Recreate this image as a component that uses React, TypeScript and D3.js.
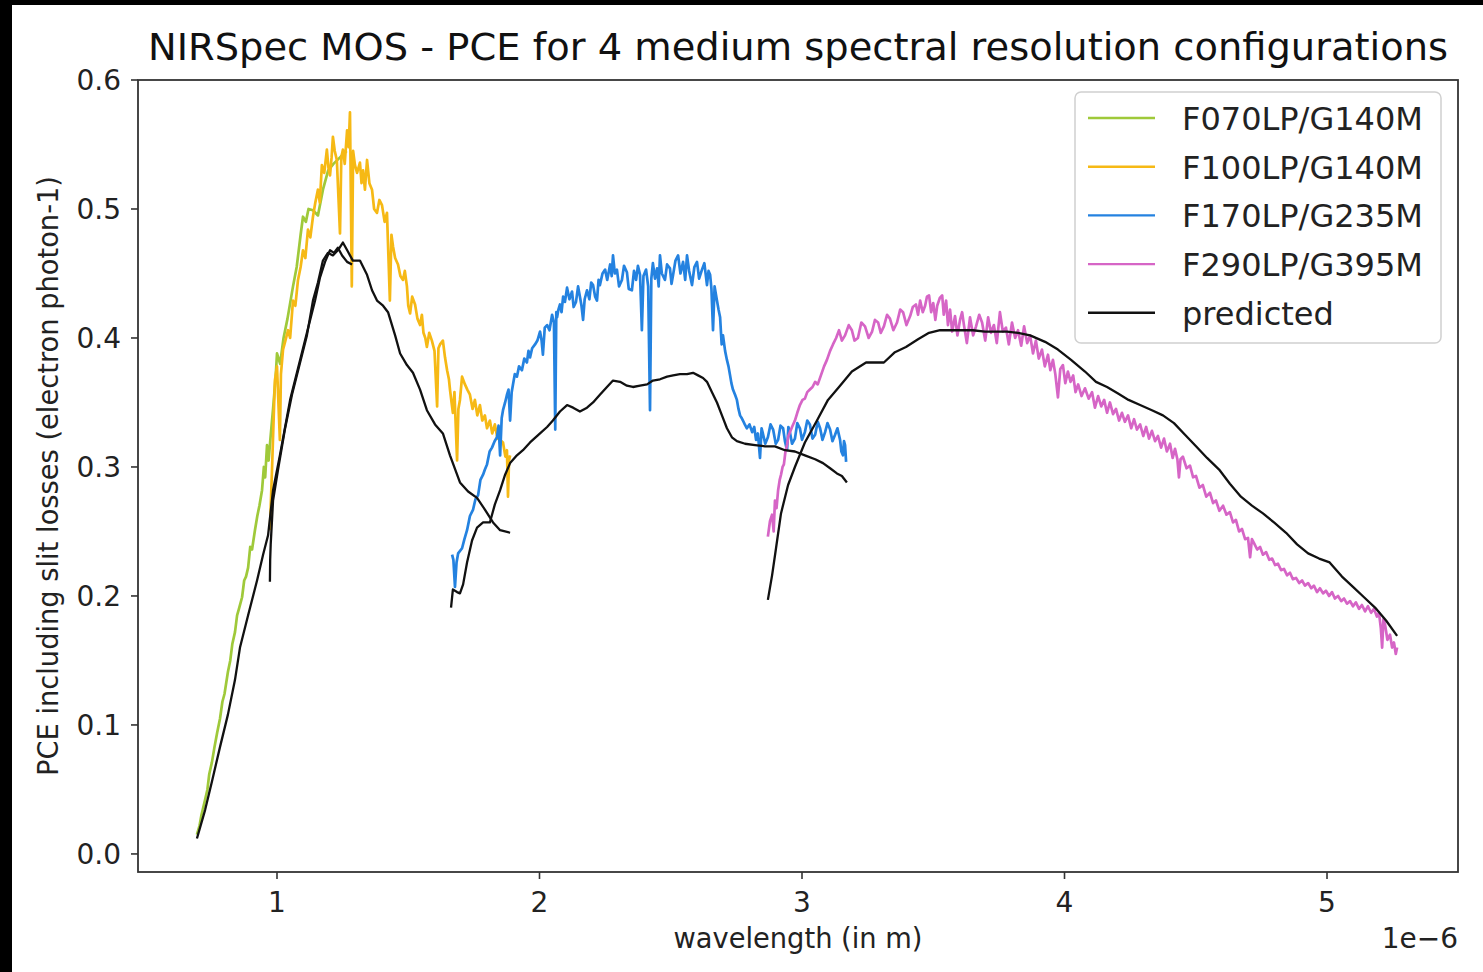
import React from "react";
import * as d3 from "d3";

// wavelength in micrometres (axis shows 1e-6 offset), PCE values
const F070LP_G140M: [number, number][] = [
  [0.695,0.015],[0.705,0.022],[0.712,0.030],[0.726,0.042],[0.735,0.050],[0.742,0.062],[0.752,0.071],
  [0.762,0.083],[0.772,0.094],[0.783,0.105],[0.792,0.118],[0.800,0.124],[0.813,0.141],[0.822,0.150],
  [0.830,0.163],[0.840,0.172],[0.848,0.185],[0.855,0.190],[0.867,0.199],[0.875,0.212],[0.882,0.215],
  [0.890,0.222],[0.898,0.238],[0.905,0.236],[0.916,0.251],[0.925,0.262],[0.933,0.270],[0.943,0.282],
  [0.950,0.300],[0.955,0.292],[0.962,0.317],[0.968,0.305],[0.975,0.322],[0.985,0.345],[0.995,0.370],
  [1.000,0.388],[1.012,0.380],[1.025,0.400],[1.040,0.415],[1.061,0.440],[1.075,0.455],[1.090,0.480],
  [1.099,0.494],[1.110,0.490],[1.120,0.500],[1.137,0.499],[1.156,0.495],[1.175,0.515],[1.195,0.530],
  [1.215,0.535],[1.240,0.540],[1.265,0.545],
];

const F100LP_G140M: [number, number][] = [
  [0.973,0.251],[0.981,0.298],[0.992,0.367],[1.000,0.378],[1.011,0.321],[1.015,0.372],[1.023,0.391],
  [1.032,0.398],[1.042,0.406],[1.050,0.400],[1.061,0.429],[1.070,0.425],[1.080,0.445],[1.090,0.455],
  [1.099,0.468],[1.108,0.462],[1.118,0.484],[1.127,0.478],[1.137,0.494],[1.146,0.505],[1.156,0.515],
  [1.163,0.505],[1.171,0.534],[1.180,0.528],[1.190,0.546],[1.196,0.532],[1.202,0.526],[1.208,0.540],
  [1.213,0.556],[1.220,0.545],[1.228,0.538],[1.240,0.481],[1.245,0.540],[1.251,0.546],[1.258,0.535],
  [1.267,0.561],[1.273,0.548],[1.278,0.575],[1.285,0.440],[1.290,0.545],[1.297,0.534],[1.305,0.528],
  [1.316,0.536],[1.322,0.520],[1.328,0.530],[1.335,0.515],[1.343,0.538],[1.352,0.520],[1.362,0.515],
  [1.370,0.500],[1.381,0.497],[1.390,0.507],[1.400,0.503],[1.410,0.490],[1.419,0.497],[1.430,0.429],
  [1.436,0.480],[1.442,0.471],[1.450,0.462],[1.461,0.457],[1.470,0.448],[1.480,0.445],[1.487,0.452],
  [1.495,0.440],[1.500,0.425],[1.507,0.419],[1.515,0.432],[1.526,0.426],[1.535,0.415],[1.545,0.410],
  [1.552,0.418],[1.558,0.404],[1.565,0.400],[1.571,0.393],[1.580,0.404],[1.590,0.398],[1.600,0.390],
  [1.610,0.347],[1.615,0.392],[1.621,0.395],[1.632,0.398],[1.640,0.385],[1.648,0.375],[1.655,0.368],
  [1.659,0.360],[1.665,0.350],[1.670,0.342],[1.676,0.358],[1.686,0.305],[1.691,0.345],[1.697,0.352],
  [1.705,0.370],[1.716,0.364],[1.725,0.360],[1.735,0.356],[1.745,0.345],[1.754,0.352],[1.763,0.340],
  [1.773,0.348],[1.782,0.336],[1.792,0.340],[1.800,0.330],[1.811,0.336],[1.820,0.326],[1.830,0.333],
  [1.840,0.322],[1.850,0.321],[1.861,0.319],[1.870,0.308],[1.876,0.313],[1.880,0.277],[1.884,0.305],
  [1.888,0.309],
];

const F170LP_G235M: [number, number][] = [
  [1.667,0.232],[1.672,0.228],[1.678,0.207],[1.684,0.226],[1.690,0.233],[1.705,0.237],[1.714,0.244],
  [1.724,0.251],[1.735,0.262],[1.747,0.267],[1.756,0.275],[1.766,0.278],[1.775,0.290],[1.785,0.294],
  [1.792,0.298],[1.800,0.302],[1.810,0.312],[1.819,0.315],[1.829,0.320],[1.838,0.323],[1.844,0.332],
  [1.850,0.309],[1.856,0.338],[1.861,0.344],[1.869,0.350],[1.876,0.356],[1.882,0.360],[1.888,0.336],
  [1.894,0.358],[1.899,0.364],[1.906,0.372],[1.914,0.370],[1.922,0.378],[1.933,0.375],[1.942,0.384],
  [1.952,0.381],[1.958,0.390],[1.964,0.385],[1.972,0.392],[1.983,0.395],[1.992,0.398],[2.002,0.405],
  [2.008,0.398],[2.013,0.387],[2.020,0.408],[2.029,0.410],[2.038,0.406],[2.048,0.418],[2.055,0.412],
  [2.060,0.329],[2.064,0.420],[2.067,0.416],[2.072,0.422],[2.078,0.426],[2.084,0.420],[2.090,0.432],
  [2.097,0.428],[2.105,0.439],[2.114,0.430],[2.124,0.436],[2.130,0.424],[2.139,0.428],[2.147,0.440],
  [2.154,0.432],[2.160,0.425],[2.166,0.414],[2.172,0.430],[2.181,0.437],[2.190,0.430],[2.197,0.443],
  [2.204,0.441],[2.212,0.432],[2.219,0.429],[2.225,0.445],[2.230,0.441],[2.240,0.450],[2.250,0.453],
  [2.258,0.445],[2.269,0.457],[2.275,0.448],[2.280,0.464],[2.287,0.450],[2.295,0.453],[2.303,0.440],
  [2.314,0.445],[2.322,0.456],[2.333,0.451],[2.340,0.438],[2.352,0.437],[2.360,0.452],[2.368,0.445],
  [2.375,0.456],[2.383,0.449],[2.390,0.406],[2.396,0.448],[2.406,0.453],[2.414,0.440],[2.421,0.344],
  [2.426,0.446],[2.432,0.458],[2.440,0.446],[2.448,0.454],[2.454,0.440],[2.459,0.464],[2.466,0.450],
  [2.478,0.445],[2.486,0.457],[2.497,0.454],[2.503,0.442],[2.509,0.449],[2.518,0.460],[2.528,0.464],
  [2.537,0.450],[2.547,0.459],[2.555,0.445],[2.562,0.464],[2.570,0.452],[2.581,0.441],[2.590,0.455],
  [2.600,0.459],[2.608,0.446],[2.619,0.453],[2.628,0.458],[2.638,0.441],[2.644,0.452],[2.650,0.449],
  [2.655,0.438],[2.661,0.406],[2.667,0.440],[2.676,0.429],[2.682,0.422],[2.688,0.416],[2.694,0.395],
  [2.699,0.402],[2.707,0.390],[2.714,0.383],[2.720,0.378],[2.726,0.371],[2.731,0.365],[2.737,0.360],
  [2.745,0.356],[2.752,0.352],[2.758,0.345],[2.764,0.340],[2.770,0.338],[2.775,0.336],[2.782,0.333],
  [2.790,0.330],[2.800,0.333],[2.810,0.327],[2.818,0.331],[2.825,0.321],[2.832,0.326],[2.840,0.307],
  [2.846,0.330],[2.851,0.326],[2.860,0.318],[2.870,0.323],[2.880,0.333],[2.890,0.329],[2.900,0.318],
  [2.909,0.321],[2.918,0.332],[2.928,0.330],[2.935,0.320],[2.943,0.313],[2.948,0.331],[2.954,0.327],
  [2.962,0.318],[2.973,0.322],[2.982,0.334],[2.992,0.330],[3.000,0.321],[3.011,0.327],[3.020,0.336],
  [3.030,0.333],[3.040,0.322],[3.050,0.325],[3.060,0.335],[3.069,0.330],[3.078,0.321],[3.088,0.327],
  [3.097,0.334],[3.107,0.329],[3.116,0.320],[3.126,0.325],[3.135,0.330],[3.145,0.321],[3.150,0.312],
  [3.156,0.309],[3.160,0.320],[3.164,0.317],[3.168,0.304],
];

const F290LP_G395M: [number, number][] = [
  [2.870,0.246],[2.878,0.258],[2.886,0.263],[2.892,0.250],[2.897,0.274],[2.903,0.268],[2.909,0.282],
  [2.915,0.290],[2.920,0.294],[2.926,0.300],[2.931,0.302],[2.937,0.312],[2.943,0.317],[2.948,0.324],
  [2.954,0.327],[2.962,0.331],[2.973,0.336],[2.982,0.342],[2.992,0.348],[3.002,0.352],[3.011,0.353],
  [3.020,0.358],[3.030,0.360],[3.040,0.362],[3.050,0.366],[3.060,0.364],[3.072,0.371],[3.084,0.378],
  [3.095,0.383],[3.107,0.390],[3.118,0.395],[3.130,0.400],[3.141,0.406],[3.152,0.398],[3.164,0.402],
  [3.178,0.410],[3.190,0.406],[3.200,0.398],[3.213,0.400],[3.226,0.412],[3.240,0.409],[3.254,0.400],
  [3.267,0.405],[3.278,0.414],[3.290,0.412],[3.300,0.404],[3.312,0.409],[3.324,0.418],[3.335,0.415],
  [3.348,0.406],[3.362,0.412],[3.374,0.422],[3.385,0.420],[3.398,0.410],[3.412,0.417],[3.422,0.424],
  [3.434,0.426],[3.442,0.418],[3.450,0.429],[3.460,0.420],[3.469,0.425],[3.476,0.432],[3.484,0.433],
  [3.492,0.420],[3.500,0.427],[3.508,0.414],[3.515,0.425],[3.525,0.431],[3.534,0.433],[3.540,0.418],
  [3.549,0.429],[3.556,0.410],[3.564,0.422],[3.572,0.405],[3.583,0.417],[3.592,0.402],[3.602,0.414],
  [3.610,0.420],[3.617,0.410],[3.628,0.396],[3.640,0.416],[3.652,0.402],[3.663,0.409],[3.675,0.418],
  [3.686,0.412],[3.698,0.398],[3.709,0.416],[3.720,0.404],[3.731,0.410],[3.742,0.396],[3.754,0.420],
  [3.765,0.405],[3.777,0.408],[3.788,0.395],[3.800,0.412],[3.812,0.400],[3.823,0.406],[3.835,0.394],
  [3.846,0.409],[3.858,0.396],[3.869,0.402],[3.880,0.388],[3.891,0.398],[3.902,0.384],[3.914,0.391],
  [3.925,0.378],[3.937,0.387],[3.946,0.375],[3.956,0.383],[3.965,0.372],[3.975,0.354],[3.984,0.376],
  [3.994,0.379],[4.003,0.365],[4.013,0.374],[4.023,0.366],[4.033,0.371],[4.042,0.358],[4.052,0.364],
  [4.065,0.355],[4.078,0.361],[4.092,0.353],[4.105,0.358],[4.116,0.346],[4.128,0.355],[4.140,0.347],
  [4.151,0.352],[4.162,0.342],[4.173,0.350],[4.185,0.341],[4.196,0.345],[4.208,0.336],[4.219,0.342],
  [4.230,0.335],[4.242,0.340],[4.254,0.330],[4.265,0.337],[4.276,0.329],[4.288,0.333],[4.300,0.324],
  [4.311,0.331],[4.322,0.322],[4.333,0.328],[4.345,0.320],[4.356,0.324],[4.368,0.315],[4.379,0.322],
  [4.390,0.312],[4.402,0.318],[4.412,0.307],[4.421,0.314],[4.430,0.306],[4.436,0.292],[4.442,0.306],
  [4.451,0.308],[4.465,0.299],[4.478,0.301],[4.490,0.292],[4.501,0.293],[4.514,0.284],[4.527,0.286],
  [4.540,0.277],[4.554,0.280],[4.566,0.272],[4.577,0.274],[4.590,0.266],[4.604,0.270],[4.617,0.263],
  [4.630,0.265],[4.642,0.257],[4.653,0.259],[4.665,0.250],[4.676,0.252],[4.688,0.244],[4.699,0.245],
  [4.707,0.230],[4.714,0.244],[4.722,0.241],[4.734,0.236],[4.745,0.238],[4.756,0.232],[4.768,0.234],
  [4.780,0.228],[4.791,0.229],[4.802,0.224],[4.813,0.225],[4.825,0.220],[4.836,0.221],[4.848,0.216],
  [4.859,0.218],[4.870,0.213],[4.882,0.214],[4.894,0.210],[4.905,0.212],[4.916,0.208],[4.928,0.210],
  [4.940,0.206],[4.950,0.208],[4.962,0.203],[4.973,0.206],[4.985,0.202],[4.996,0.204],[5.008,0.200],
  [5.019,0.203],[5.030,0.198],[5.042,0.200],[5.054,0.196],[5.065,0.198],[5.076,0.194],[5.088,0.196],
  [5.099,0.192],[5.110,0.195],[5.122,0.190],[5.133,0.193],[5.145,0.188],[5.156,0.192],[5.168,0.187],
  [5.179,0.190],[5.190,0.184],[5.198,0.187],[5.205,0.175],[5.210,0.160],[5.215,0.182],[5.221,0.178],
  [5.230,0.166],[5.240,0.170],[5.248,0.160],[5.255,0.164],[5.262,0.155],[5.267,0.160],
];

const predicted_F070: [number, number][] = [
  [0.695,0.012],[0.726,0.034],[0.752,0.056],[0.783,0.083],[0.813,0.108],[0.840,0.135],[0.859,0.160],
  [0.890,0.185],[0.924,0.212],[0.947,0.232],[0.966,0.247],[0.985,0.282],[1.011,0.309],[1.050,0.352],
  [1.088,0.383],[1.114,0.404],[1.145,0.429],[1.164,0.447],[1.183,0.459],[1.202,0.468],[1.217,0.466],
  [1.232,0.470],[1.248,0.464],[1.267,0.459],[1.286,0.457],
];

const predicted_F100: [number, number][] = [
  [0.973,0.211],[0.974,0.228],[0.976,0.240],[0.985,0.274],[1.004,0.298],[1.030,0.329],[1.057,0.356],
  [1.088,0.381],[1.114,0.402],[1.137,0.429],[1.156,0.443],[1.175,0.460],[1.194,0.466],[1.213,0.464],
  [1.232,0.468],[1.251,0.474],[1.270,0.467],[1.289,0.460],[1.316,0.460],[1.343,0.449],[1.362,0.437],
  [1.381,0.429],[1.404,0.425],[1.423,0.420],[1.450,0.402],[1.469,0.388],[1.495,0.379],[1.518,0.373],
  [1.545,0.360],[1.571,0.344],[1.602,0.333],[1.632,0.326],[1.659,0.309],[1.697,0.288],[1.728,0.281],
  [1.762,0.276],[1.792,0.267],[1.823,0.257],[1.850,0.251],[1.888,0.249],
];

const predicted_F170: [number, number][] = [
  [1.663,0.191],[1.670,0.205],[1.686,0.203],[1.697,0.202],[1.709,0.209],[1.724,0.226],[1.743,0.243],
  [1.762,0.253],[1.785,0.257],[1.811,0.257],[1.830,0.271],[1.850,0.282],[1.869,0.294],[1.888,0.303],
  [1.914,0.309],[1.937,0.313],[1.964,0.319],[2.002,0.326],[2.029,0.331],[2.051,0.336],[2.078,0.343],
  [2.105,0.348],[2.128,0.346],[2.154,0.343],[2.181,0.346],[2.204,0.350],[2.230,0.356],[2.257,0.362],
  [2.280,0.367],[2.307,0.366],[2.333,0.363],[2.356,0.362],[2.383,0.363],[2.410,0.364],[2.432,0.367],
  [2.459,0.368],[2.486,0.370],[2.509,0.371],[2.535,0.372],[2.562,0.372],[2.585,0.373],[2.604,0.371],
  [2.623,0.369],[2.638,0.366],[2.657,0.358],[2.676,0.350],[2.695,0.340],[2.714,0.330],[2.733,0.323],
  [2.752,0.320],[2.783,0.318],[2.821,0.317],[2.859,0.316],[2.897,0.316],[2.935,0.313],[2.973,0.312],
  [3.011,0.309],[3.050,0.306],[3.080,0.303],[3.107,0.299],[3.133,0.295],[3.152,0.293],[3.171,0.288],
];

const predicted_F290: [number, number][] = [
  [2.870,0.197],[2.886,0.216],[2.901,0.237],[2.920,0.264],[2.947,0.286],[2.973,0.300],[3.011,0.319],
  [3.057,0.336],[3.099,0.352],[3.141,0.362],[3.190,0.374],[3.244,0.381],[3.278,0.381],[3.312,0.381],
  [3.354,0.389],[3.396,0.393],[3.442,0.399],[3.484,0.404],[3.526,0.406],[3.568,0.406],[3.610,0.406],
  [3.651,0.406],[3.697,0.405],[3.739,0.405],[3.781,0.405],[3.823,0.404],[3.869,0.402],[3.926,0.397],
  [3.975,0.391],[4.025,0.383],[4.078,0.374],[4.120,0.366],[4.162,0.362],[4.204,0.357],[4.244,0.352],
  [4.288,0.348],[4.333,0.344],[4.375,0.340],[4.417,0.334],[4.459,0.325],[4.501,0.316],[4.543,0.307],
  [4.589,0.298],[4.630,0.287],[4.672,0.277],[4.714,0.270],[4.756,0.264],[4.798,0.257],[4.844,0.249],
  [4.886,0.240],[4.928,0.233],[4.970,0.229],[5.010,0.226],[5.057,0.215],[5.099,0.207],[5.141,0.199],
  [5.183,0.191],[5.225,0.181],[5.267,0.169],
];

const seriesLabels = ["F070LP/G140M", "F100LP/G140M", "F170LP/G235M", "F290LP/G395M", "predicted"];
const seriesColors = ["#9fc93a", "#f6b915", "#2482e0", "#d665c6", "#111111"];
const measured = [F070LP_G140M, F100LP_G140M, F170LP_G235M, F290LP_G395M];
const predicted = [predicted_F070, predicted_F100, predicted_F170, predicted_F290];

const xTicks = [1, 2, 3, 4, 5];
const yTicks = [0, 0.1, 0.2, 0.3, 0.4, 0.5, 0.6];
const xDomain: [number, number] = [0.4705, 5.499];
const yDomain: [number, number] = [-0.014, 0.6];

const title = "NIRSpec MOS - PCE for 4 medium spectral resolution configurations";
const xLabel = "wavelength (in m)";
const yLabel = "PCE including slit losses (electron photon-1)";
const offsetLabel = "1e\u22126";

export default function App() {
  const W = 1483, H = 972;
  const left = 138, right = 1458, top = 80, bottom = 872;
  const x = d3.scaleLinear().domain(xDomain).range([left, right]);
  const y = d3.scaleLinear().domain(yDomain).range([bottom, top]);
  const line = d3.line<[number, number]>().x(d => x(d[0])).y(d => y(d[1]));
  const font = "DejaVu Sans, sans-serif";
  const fs = 28;
  const legendRowY = (i: number) => 118 + i * 48.7;

  return (
    <svg width={W} height={H} style={{ position: "fixed", left: 0, top: 0 }} fontFamily={font}>
      <rect x={0} y={0} width={W} height={H} fill="#000" />
      <rect x={12} y={5} width={W - 12} height={H - 5} fill="#ffffff" />
      <text x={(left + right) / 2} y={60} textAnchor="middle" fontSize={37} fill="#111"
        textLength={1300} lengthAdjust="spacingAndGlyphs">{title}</text>
      <defs>
        <clipPath id="plotclip"><rect x={left} y={top} width={right - left} height={bottom - top} /></clipPath>
      </defs>
      <g clipPath="url(#plotclip)" fill="none" strokeLinejoin="round">
        {measured.map((s, i) => (
          <path key={"m" + i} d={line(s) || ""} stroke={seriesColors[i]} strokeWidth={2.7} />
        ))}
        {predicted.map((s, i) => (
          <path key={"p" + i} d={line(s) || ""} stroke={seriesColors[4]} strokeWidth={2.3} />
        ))}
      </g>
      <rect x={left} y={top} width={right - left} height={bottom - top} fill="none" stroke="#333" strokeWidth={1.8} />
      {yTicks.map(t => (
        <g key={"y" + t}>
          <line x1={left - 7} x2={left} y1={y(t)} y2={y(t)} stroke="#333" strokeWidth={1.6} />
          <text x={left - 17} y={y(t) + 10} textAnchor="end" fontSize={fs} fill="#222">{d3.format(".1f")(t)}</text>
        </g>
      ))}
      {xTicks.map(t => (
        <g key={"x" + t}>
          <line x1={x(t)} x2={x(t)} y1={bottom} y2={bottom + 7} stroke="#333" strokeWidth={1.6} />
          <text x={x(t)} y={bottom + 40} textAnchor="middle" fontSize={fs} fill="#222">{t}</text>
        </g>
      ))}
      <text x={(left + right) / 2} y={948} textAnchor="middle" fontSize={fs} fill="#222"
        textLength={249} lengthAdjust="spacingAndGlyphs">{xLabel}</text>
      <text x={right} y={948} textAnchor="end" fontSize={fs} fill="#222">{offsetLabel}</text>
      <text transform={`translate(58,${(top + bottom) / 2}) rotate(-90)`} textAnchor="middle" fontSize={fs} fill="#222"
        textLength={600} lengthAdjust="spacingAndGlyphs">{yLabel}</text>
      <rect x={1075} y={92} width={366} height={251} rx={6} fill="#fff" fillOpacity={0.85} stroke="#d0d0d0" strokeWidth={1.5} />
      {seriesLabels.map((lab, i) => (
        <g key={"l" + i}>
          <line x1={1088} x2={1155} y1={legendRowY(i)} y2={legendRowY(i)} stroke={seriesColors[i]} strokeWidth={2.4} />
          <text x={1182} y={legendRowY(i) + 12} fontSize={32} fill="#222">{lab}</text>
        </g>
      ))}
    </svg>
  );
}
